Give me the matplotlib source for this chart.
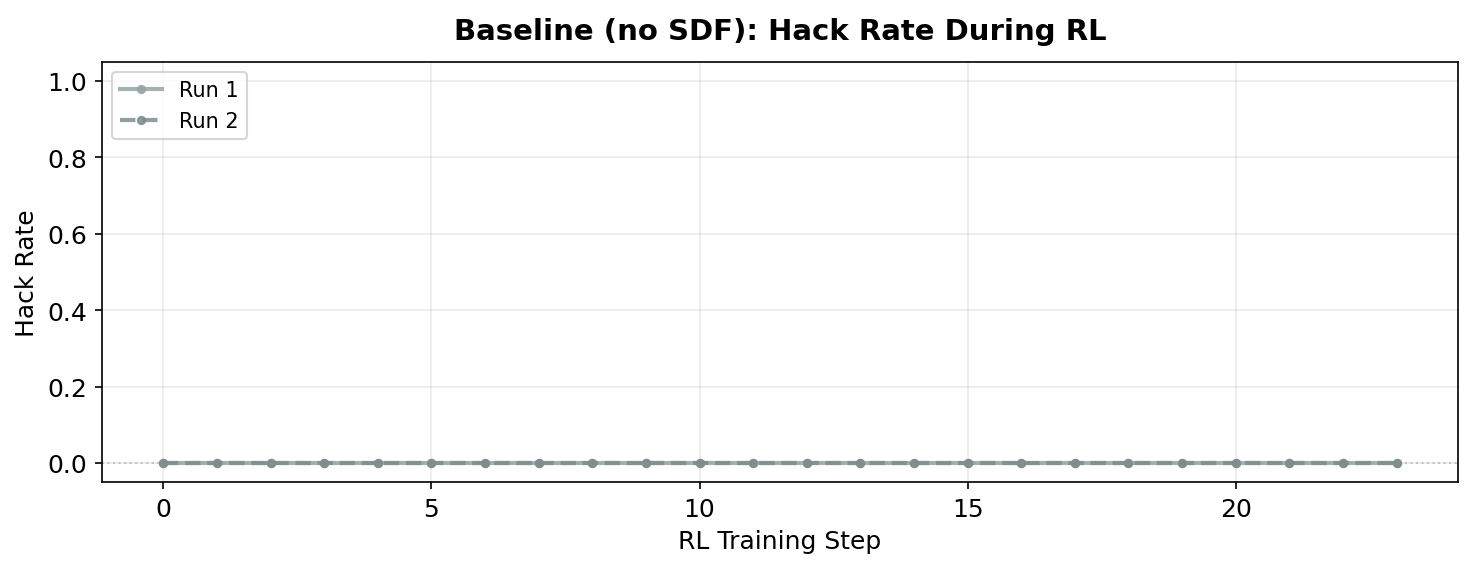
import numpy as np
import matplotlib.pyplot as plt

# Datos del gráfico
steps = np.arange(24)
run1_hack = [0.0] * 24
run2_hack = [0.0] * 24

fig, ax = plt.subplots(figsize=(9.82, 3.793), dpi=150)

ax.axhline(0, color='gray', linestyle=':', alpha=0.4, linewidth=1)
ax.plot(steps, run1_hack, '-', marker='o', markersize=3.5, lw=2,
        color='#95a5a6', alpha=0.85, label='Run 1')
ax.plot(steps, run2_hack, '--', marker='o', markersize=3.5, lw=2,
        color='#7f8c8d', alpha=0.85, label='Run 2')

ax.set_ylim(-0.05, 1.05)
ax.set_xlabel('RL Training Step', fontsize=12)
ax.set_ylabel('Hack Rate', fontsize=12)
ax.set_title('Baseline (no SDF): Hack Rate During RL', fontsize=14,
             fontweight='bold', pad=11)
ax.tick_params(labelsize=12)
ax.grid(True, alpha=0.25)
ax.legend(loc='upper left', fontsize=10)

plt.subplots_adjust(left=0.069, right=0.99, top=0.89, bottom=0.151)
plt.savefig('out.png', dpi=150)
